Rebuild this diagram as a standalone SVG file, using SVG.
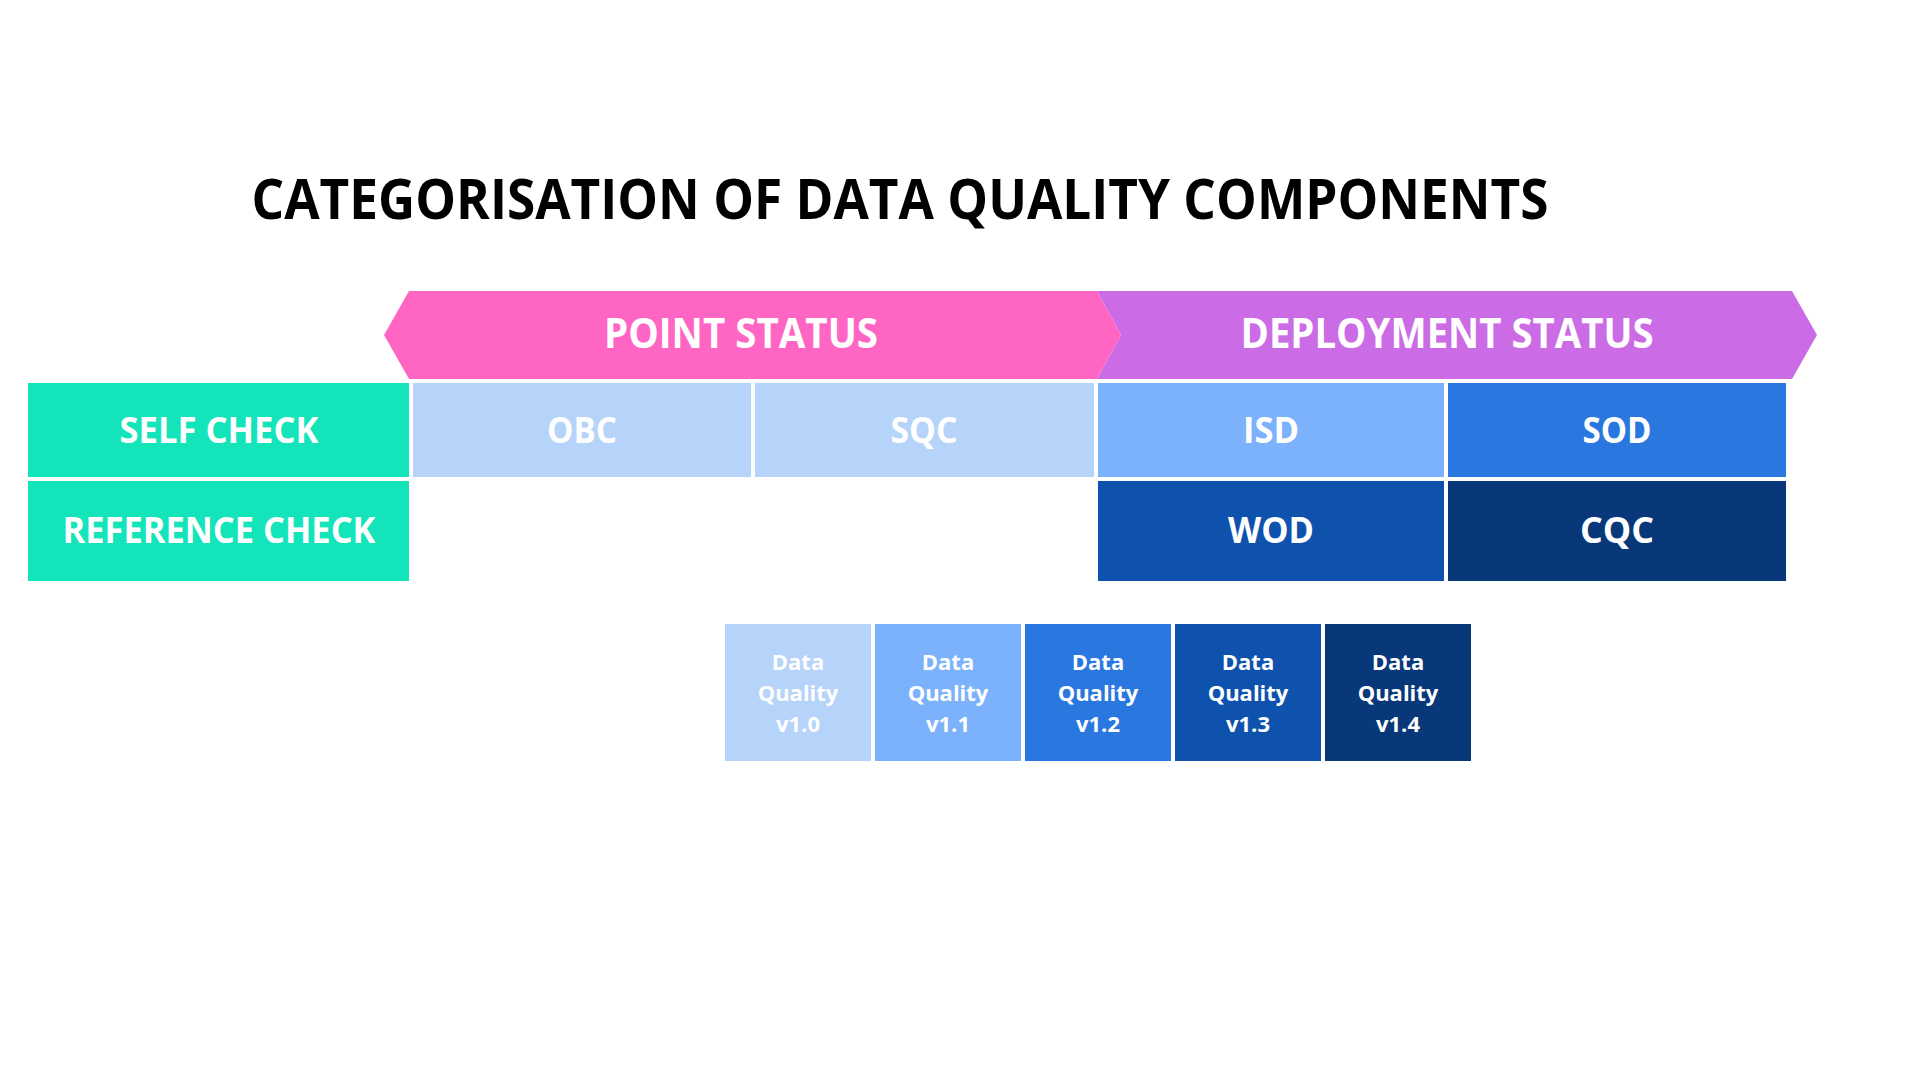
<svg xmlns="http://www.w3.org/2000/svg" width="1920" height="1080" viewBox="0 0 1920 1080">
<style>
text{font-family:"Open Sans","Noto Sans","Liberation Sans",sans-serif;font-weight:700;text-anchor:middle;fill:#ffffff}
.title{fill:#000000;font-size:56px}
.hdr{font-size:42px}
.cell{font-size:35px}
.dq{font-size:22px}
.teal{fill:#13E4BA}
.c0{fill:#B6D3F9}
.c1{fill:#7CB1FB}
.c2{fill:#2A77DF}
.c3{fill:#0F52AE}
.c4{fill:#08387A}
</style>
<rect width="1920" height="1080" fill="#ffffff"/>
<text class="title" x="900" y="219" textLength="1297" lengthAdjust="spacingAndGlyphs">CATEGORISATION OF DATA QUALITY COMPONENTS</text>
<g id="deployment-status">
<polygon points="1097,291 1792,291 1817,335 1792,379 1097,379 1121,335" fill="#CB6CE6"/>
<text class="hdr" x="1447" y="348" textLength="413" lengthAdjust="spacingAndGlyphs">DEPLOYMENT STATUS</text>
</g>
<g id="point-status">
<polygon points="409,291 1097,291 1121,335 1097,379 409,379 384,335" fill="#FF66C4"/>
<text class="hdr" x="741" y="348" textLength="274" lengthAdjust="spacingAndGlyphs">POINT STATUS</text>
</g>
<g id="self-check">
<rect class="teal" x="28" y="383" width="381" height="94"/>
<text class="cell" x="219" y="443" textLength="199" lengthAdjust="spacingAndGlyphs">SELF CHECK</text>
</g>
<g id="reference-check">
<rect class="teal" x="28" y="481" width="381" height="100"/>
<text class="cell" x="219" y="543" textLength="313" lengthAdjust="spacingAndGlyphs">REFERENCE CHECK</text>
</g>
<g id="obc">
<rect class="c0" x="413" y="383" width="338" height="94"/>
<text class="cell" x="582" y="443" textLength="70" lengthAdjust="spacingAndGlyphs">OBC</text>
</g>
<g id="sqc">
<rect class="c0" x="755" y="383" width="339" height="94"/>
<text class="cell" x="924" y="443" textLength="67" lengthAdjust="spacingAndGlyphs">SQC</text>
</g>
<g id="isd">
<rect class="c1" x="1098" y="383" width="346" height="94"/>
<text class="cell" x="1271" y="443" textLength="56" lengthAdjust="spacingAndGlyphs">ISD</text>
</g>
<g id="sod">
<rect class="c2" x="1448" y="383" width="338" height="94"/>
<text class="cell" x="1617" y="443" textLength="69" lengthAdjust="spacingAndGlyphs">SOD</text>
</g>
<g id="wod">
<rect class="c3" x="1098" y="481" width="346" height="100"/>
<text class="cell" x="1271" y="543" textLength="86" lengthAdjust="spacingAndGlyphs">WOD</text>
</g>
<g id="cqc">
<rect class="c4" x="1448" y="481" width="338" height="100"/>
<text class="cell" x="1617" y="543" textLength="74" lengthAdjust="spacingAndGlyphs">CQC</text>
</g>
<g id="dq-v10">
<rect class="c0" x="725" y="624" width="146" height="137"/>
<text class="dq" x="798" y="670">Data</text><text class="dq" x="798" y="701">Quality</text><text class="dq" x="798" y="732">v1.0</text>
</g>
<g id="dq-v11">
<rect class="c1" x="875" y="624" width="146" height="137"/>
<text class="dq" x="948" y="670">Data</text><text class="dq" x="948" y="701">Quality</text><text class="dq" x="948" y="732">v1.1</text>
</g>
<g id="dq-v12">
<rect class="c2" x="1025" y="624" width="146" height="137"/>
<text class="dq" x="1098" y="670">Data</text><text class="dq" x="1098" y="701">Quality</text><text class="dq" x="1098" y="732">v1.2</text>
</g>
<g id="dq-v13">
<rect class="c3" x="1175" y="624" width="146" height="137"/>
<text class="dq" x="1248" y="670">Data</text><text class="dq" x="1248" y="701">Quality</text><text class="dq" x="1248" y="732">v1.3</text>
</g>
<g id="dq-v14">
<rect class="c4" x="1325" y="624" width="146" height="137"/>
<text class="dq" x="1398" y="670">Data</text><text class="dq" x="1398" y="701">Quality</text><text class="dq" x="1398" y="732">v1.4</text>
</g>
<g id="connectors"/>
</svg>
